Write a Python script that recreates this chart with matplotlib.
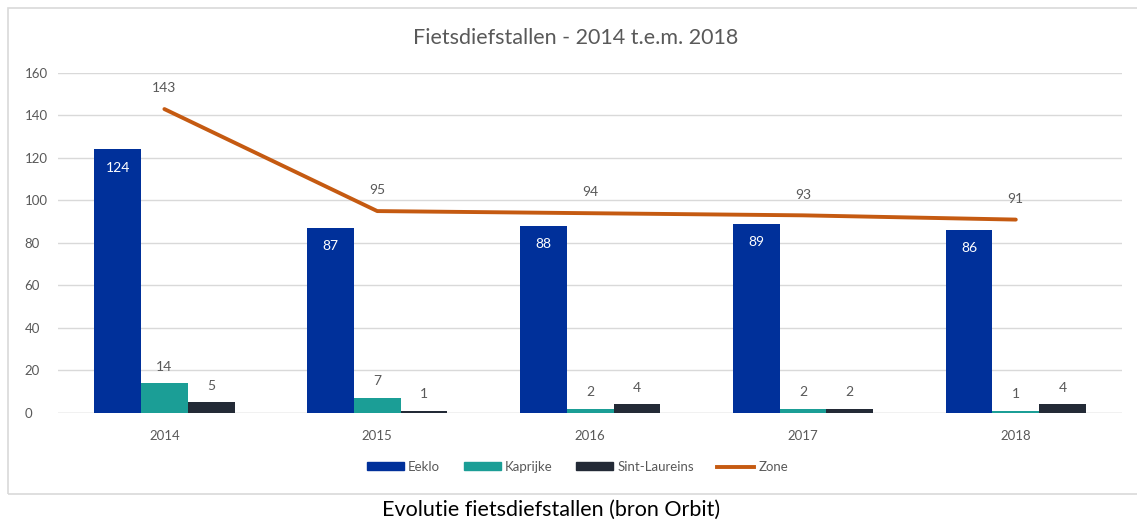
import matplotlib.pyplot as plt
import matplotlib.patches as mpatches
from matplotlib.lines import Line2D
import numpy as np

plt.rcParams['font.family'] = ['Lato', 'DejaVu Sans']

years = ["2014", "2015", "2016", "2017", "2018"]
eeklo = [124, 87, 88, 89, 86]
kaprijke = [14, 7, 2, 2, 1]
sint_laureins = [5, 1, 4, 2, 4]
zone = [143, 95, 94, 93, 91]

c_eeklo = "#00309a"
c_kap = "#1b9e96"
c_sl = "#232a36"
c_zone = "#c55a11"
grey = "#595959"

fig = plt.figure(figsize=(11.37, 5.21), dpi=100)
ax = fig.add_axes([0.051, 0.2073, 0.936, 0.6527])

x = np.arange(len(years))
w = 0.22

ax.bar(x - w, eeklo, w, color=c_eeklo, label="Eeklo", zorder=3)
ax.bar(x, kaprijke, w, color=c_kap, label="Kaprijke", zorder=3)
ax.bar(x + w, sint_laureins, w, color=c_sl, label="Sint-Laureins", zorder=3)
ax.plot(x, zone, color=c_zone, lw=2.8, solid_capstyle='round', label="Zone", zorder=4)

for xi, v in zip(x, eeklo):
    ax.annotate(str(v), (xi - w, v), xytext=(0, -13), textcoords="offset points",
                ha='center', va='center', color='white', fontsize=10)
for xi, v in zip(x, kaprijke):
    ax.annotate(str(v), (xi, v), xytext=(0, 12), textcoords="offset points",
                ha='center', va='center', color=grey, fontsize=10)
for xi, v in zip(x, sint_laureins):
    ax.annotate(str(v), (xi + w, v), xytext=(0, 12), textcoords="offset points",
                ha='center', va='center', color=grey, fontsize=10)
for xi, v in zip(x, zone):
    ax.annotate(str(v), (xi, v), xytext=(0, 15), textcoords="offset points",
                ha='center', va='center', color=grey, fontsize=10)

ax.set_xlim(-0.5, len(years) - 0.5)
ax.set_ylim(0, 160)
ax.set_yticks(range(0, 161, 20))
ax.set_xticks(x)
ax.set_xticklabels(years)
ax.tick_params(axis='both', length=0, colors=grey, labelsize=9.5)
ax.tick_params(axis='x', pad=12)
ax.tick_params(axis='y', pad=24)
for lbl in ax.get_yticklabels():
    lbl.set_horizontalalignment('left')
ax.grid(axis='y', color='#d9d9d9', lw=1, zorder=0)
for s in ax.spines.values():
    s.set_visible(False)
ax.axhline(0, color='#d9d9d9', lw=1, zorder=2)

fig.text(0.506, 0.928, "Fietsdiefstallen - 2014 t.e.m. 2018", ha='center', va='center',
         fontsize=15.5, color=grey)

handles = [mpatches.Patch(color=c_eeklo), mpatches.Patch(color=c_kap),
           mpatches.Patch(color=c_sl), Line2D([], [], color=c_zone, lw=2.8)]
fig.legend(handles, ["Eeklo", "Kaprijke", "Sint-Laureins", "Zone"], loc='center',
           bbox_to_anchor=(0.508, 0.104), ncol=4, frameon=False, fontsize=9.5,
           handlelength=2.8, handleheight=0.5, columnspacing=1.8, handletextpad=0.3,
           labelcolor=grey)

fig.add_artist(mpatches.Rectangle((8 / 1137, 27 / 521), 1.1, 486 / 521,
                                  transform=fig.transFigure, fill=False,
                                  edgecolor='#d9d9d9', lw=1.2))

fig.text(0.485, 0.021, "Evolutie fietsdiefstallen (bron Orbit)", ha='center', va='center',
         fontsize=15.5, color='black')

plt.savefig("out.png", dpi=100)
